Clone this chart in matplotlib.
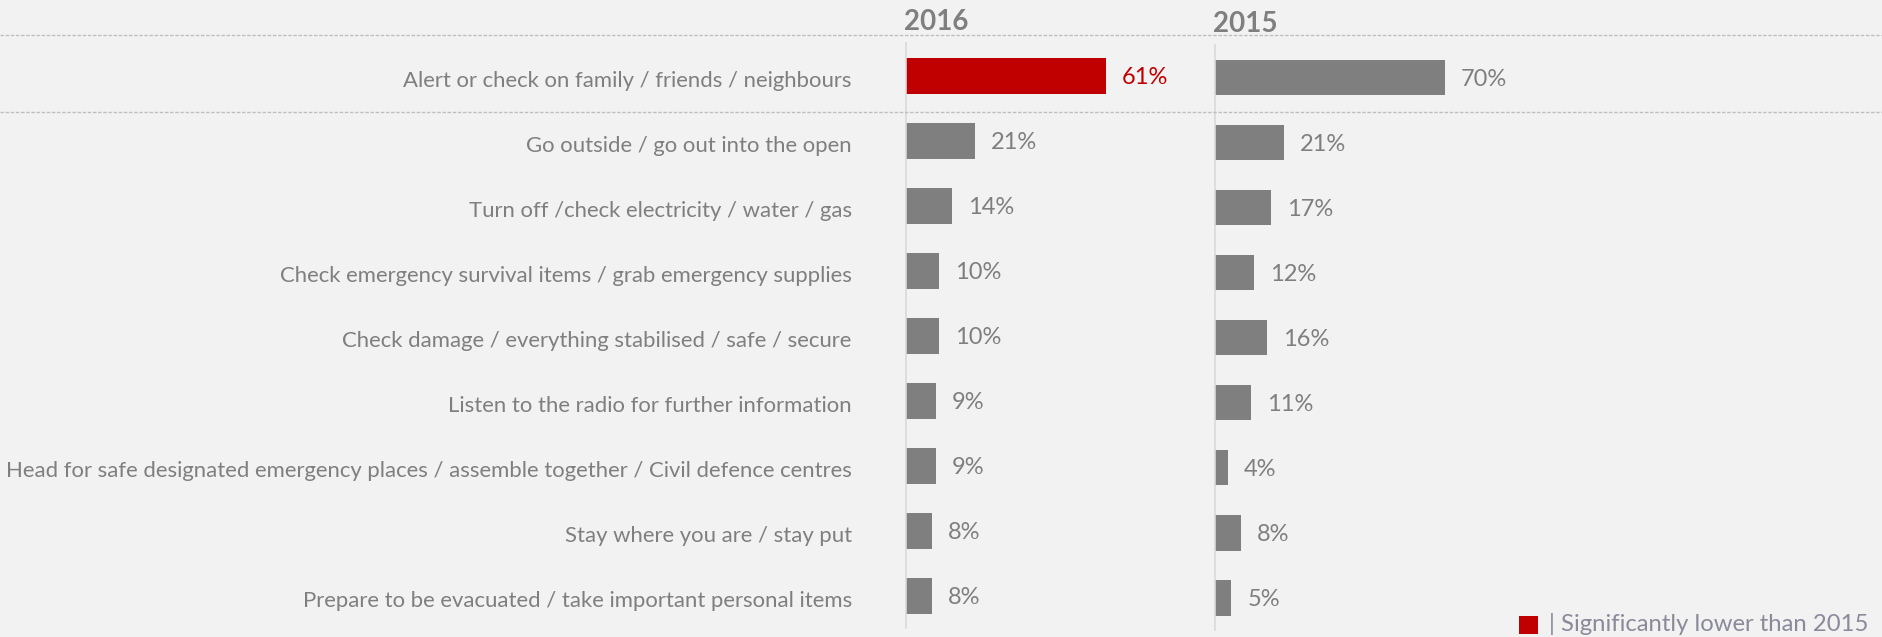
import matplotlib
matplotlib.use("Agg")
import matplotlib.pyplot as plt
from matplotlib.lines import Line2D
from matplotlib.patches import Rectangle
import matplotlib.transforms as mtransforms

# --- data ---------------------------------------------------------------
categories = [
    "Alert or check on family / friends / neighbours",
    "Go outside / go out into the open",
    "Turn off /check electricity / water / gas",
    "Check emergency survival items / grab emergency supplies",
    "Check damage / everything stabilised / safe / secure",
    "Listen to the radio for further information",
    "Head for safe designated emergency places / assemble together / Civil defence centres",
    "Stay where you are / stay put",
    "Prepare to be evacuated / take important personal items",
]
values_2016 = [61, 21, 14, 10, 10, 9, 9, 8, 8]
values_2015 = [70, 21, 17, 12, 16, 11, 4, 8, 5]
significant_2016 = [True, False, False, False, False, False, False, False, False]
year_labels = ["2016", "2015"]
legend_text = "| Significantly lower than 2015"

# --- style --------------------------------------------------------------
BG = "#f2f2f2"
GREY = "#7f7f7f"
RED = "#c00000"
AXIS = "#d9d9d9"
DASH = "#bfbfbf"
FONT = "Lato"

W, H = 1883, 637
PX_PER_PCT = 3.28
XMAX = 80

fig = plt.figure(figsize=(W / 100, H / 100), dpi=100, facecolor=BG)


def px_axes(left, top, right, bottom):
    return fig.add_axes([left / W, 1 - bottom / H, (right - left) / W, (bottom - top) / H])


n = len(categories)
rows = list(range(n))


def style_axes(ax):
    ax.patch.set_visible(False)
    for side in ("top", "right", "bottom"):
        ax.spines[side].set_visible(False)
    ax.spines["left"].set_color(AXIS)
    ax.spines["left"].set_linewidth(1.2)
    ax.set_xlim(0, XMAX)
    ax.set_ylim(n - 1 + 0.49, -0.508)
    ax.set_xticks([])
    ax.tick_params(axis="y", length=0)


def draw_bars(ax, values, highlight):
    colors = [RED if h else GREY for h in highlight]
    ax.barh(rows, values, height=0.55, color=colors, left=0)
    for r, v, c in zip(rows, values, colors):
        ax.annotate(f"{v}%", xy=(v, r), xytext=(11.5, -1.2), textcoords="offset points",
                    va="center", ha="left", color=c, fontsize=17, family=FONT)


ax16 = px_axes(906, 43, 906 + XMAX * PX_PER_PCT, 628)
style_axes(ax16)
draw_bars(ax16, values_2016, significant_2016)
ax16.set_yticks(rows)
ax16.set_yticklabels(categories, color=GREY, fontsize=15.9, family=FONT)
ax16.tick_params(axis="y", pad=39)
shift = mtransforms.ScaledTranslation(0, -3 / 100, fig.dpi_scale_trans)
for lbl in ax16.get_yticklabels():
    lbl.set_transform(lbl.get_transform() + shift)

ax15 = px_axes(1215, 44.5, 1215 + XMAX * PX_PER_PCT, 629.5)
style_axes(ax15)
draw_bars(ax15, values_2015, [False] * n)
ax15.set_yticks([])

# year headers
for ax, label in zip((ax16, ax15), year_labels):
    ax.text(0, 1.0, label, transform=ax.transAxes + mtransforms.ScaledTranslation(-2 / 100, 21 / 100, fig.dpi_scale_trans),
            ha="left", va="center", fontsize=20, fontweight="bold", color=GREY, family=FONT)

# dashed separators around the highlighted row
for y in (35, 111.5):
    fig.add_artist(Line2D([0, 1], [1 - y / H, 1 - y / H], transform=fig.transFigure,
                          color=DASH, lw=1.0, linestyle=(0, (2.5, 1.2))))

# legend
fig.add_artist(Rectangle(((1519) / W, 1 - 634 / H), 19 / W, 18 / H,
                         transform=fig.transFigure, facecolor=RED, edgecolor="none"))
fig.text(1549 / W, 1 - 624 / H, legend_text, ha="left", va="center",
         fontsize=17.2, color="#8a8a9a", family=FONT)

fig.savefig("out.png", dpi=100, facecolor=BG)
